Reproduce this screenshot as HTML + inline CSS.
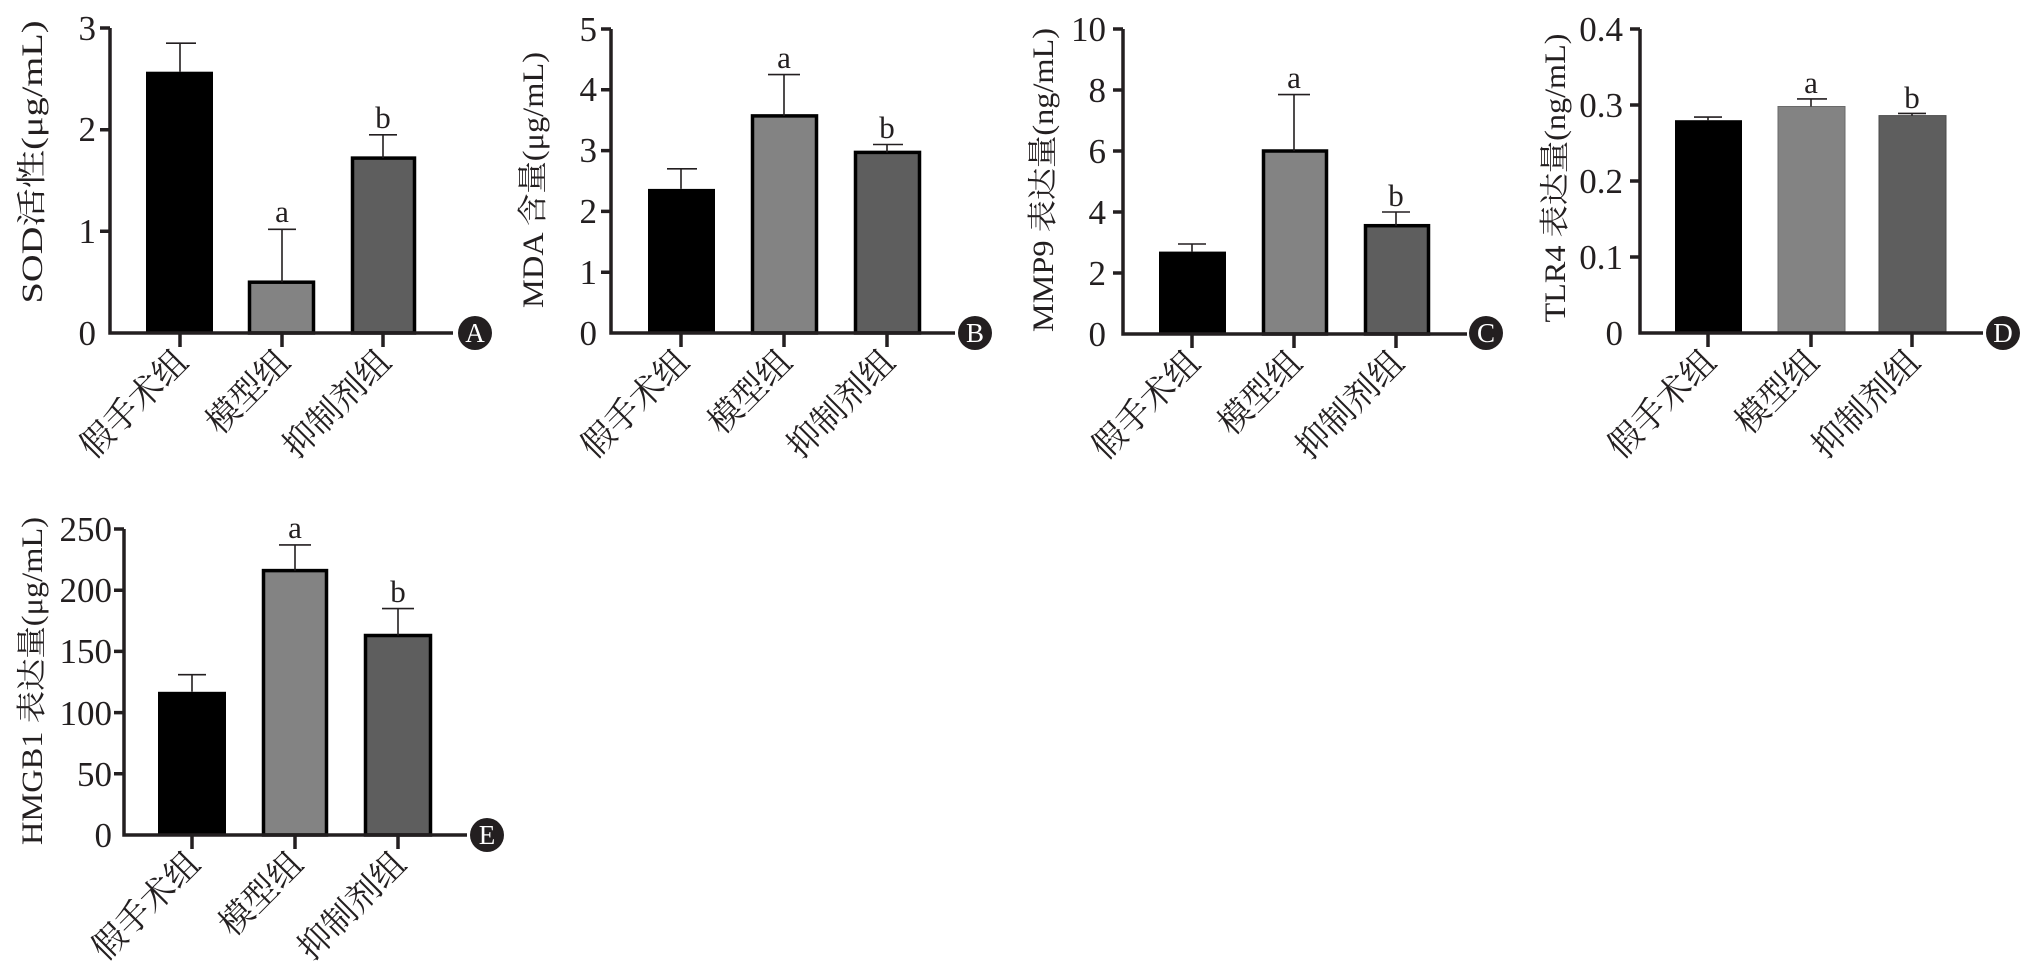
<!DOCTYPE html>
<html><head><meta charset="utf-8"><style>
html,body{margin:0;padding:0;background:#fff;}
svg{display:block;}
text{font-family:"Liberation Serif","Noto Serif CJK SC","Noto Sans CJK SC",serif;fill:#231f20;}
.t{font-size:35px;text-anchor:end;}
.c{font-size:34px;text-anchor:end;}
.y{font-size:30px;text-anchor:middle;}
.s{font-size:31px;text-anchor:middle;}
.L{font-size:27px;text-anchor:middle;fill:#fff;}
.ax{stroke:#231f20;stroke-width:3.5;fill:none;}
.e{stroke:#231f20;stroke-width:1.6;fill:none;}
</style></head><body>
<svg width="2033" height="973" viewBox="0 0 2033 973" xmlns="http://www.w3.org/2000/svg">
<!-- Panel A -->
<g>
<rect x="146" y="71.7" width="67" height="261.3" fill="#000"/>
<rect x="249.5" y="282.2" width="64" height="50.8" fill="#838383" stroke="#000" stroke-width="3.5"/>
<rect x="352.5" y="158.1" width="62" height="174.9" fill="#5e5e5e" stroke="#000" stroke-width="3.5"/>
<path class="e" d="M180 71.7V43.2M166 43.2H196M282 282.2V229.3M268 229.3H296M383 158.1V134.8M369 134.8H397"/>
<text class="s" x="282" y="222">a</text><text class="s" x="383" y="128">b</text>
<path class="ax" d="M110 28V333H453M100 28H110M100 231.3H110M100 129.7H110M180 333V347M282 333V347M383 333V347"/>
<text class="t" x="96" y="345">0</text><text class="t" x="96" y="243">1</text><text class="t" x="96" y="141">2</text><text class="t" x="96" y="40">3</text>
<text class="y" transform="translate(42,162) rotate(-90)" textLength="283" lengthAdjust="spacingAndGlyphs">SOD活性(μg/mL)</text>
<text class="c" transform="translate(190,364) rotate(-45)">假手术组</text>
<text class="c" transform="translate(292,364) rotate(-45)">模型组</text>
<text class="c" transform="translate(393,364) rotate(-45)">抑制剂组</text>
<circle cx="475" cy="333" r="17" fill="#231f20"/><text class="L" x="475" y="342">A</text>
</g>
<!-- Panel B -->
<g>
<rect x="648" y="188.9" width="67" height="144.1" fill="#000"/>
<rect x="752.5" y="115.9" width="64" height="217.1" fill="#838383" stroke="#000" stroke-width="3.5"/>
<rect x="855.5" y="152.4" width="64" height="180.6" fill="#5e5e5e" stroke="#000" stroke-width="3.5"/>
<path class="e" d="M681 188.9V168.8M667 168.8H697M784 115.9V74.6M768 74.6H800M887 152.4V144.5M873 144.5H903"/>
<text class="s" x="784" y="68">a</text><text class="s" x="887" y="138">b</text>
<path class="ax" d="M611 29V333H955M601 29H611M601 89.8H611M601 150.6H611M601 211.4H611M601 272.2H611M681 333V347M784 333V347M887 333V347"/>
<text class="t" x="597" y="345">0</text><text class="t" x="597" y="284">1</text><text class="t" x="597" y="223">2</text><text class="t" x="597" y="162">3</text><text class="t" x="597" y="101">4</text><text class="t" x="597" y="41">5</text>
<text class="y" transform="translate(543,180) rotate(-90)" textLength="256" lengthAdjust="spacingAndGlyphs">MDA 含量(μg/mL)</text>
<text class="c" transform="translate(691,364) rotate(-45)">假手术组</text>
<text class="c" transform="translate(794,364) rotate(-45)">模型组</text>
<text class="c" transform="translate(897,364) rotate(-45)">抑制剂组</text>
<circle cx="975" cy="333" r="17" fill="#231f20"/><text class="L" x="975" y="342">B</text>
</g>
<!-- Panel C -->
<g>
<rect x="1159" y="251.6" width="67" height="82.4" fill="#000"/>
<rect x="1263.5" y="151" width="63" height="183" fill="#838383" stroke="#000" stroke-width="3.5"/>
<rect x="1365.5" y="225.7" width="63" height="108.3" fill="#5e5e5e" stroke="#000" stroke-width="3.5"/>
<path class="e" d="M1192 251.6V244M1178 244H1206M1294 151V94.6M1278 94.6H1310M1396 225.7V212M1382 212H1410"/>
<text class="s" x="1294" y="88">a</text><text class="s" x="1396" y="206">b</text>
<path class="ax" d="M1123 29V334H1467M1113 29H1123M1113 90H1123M1113 151H1123M1113 212H1123M1113 273H1123M1192 334V348M1294 334V348M1396 334V348"/>
<text class="t" x="1106" y="346">0</text><text class="t" x="1106" y="285">2</text><text class="t" x="1106" y="224">4</text><text class="t" x="1106" y="163">6</text><text class="t" x="1106" y="102">8</text><text class="t" x="1106" y="41">10</text>
<text class="y" transform="translate(1053,180) rotate(-90)" textLength="304" lengthAdjust="spacingAndGlyphs">MMP9 表达量(ng/mL)</text>
<text class="c" transform="translate(1202,365) rotate(-45)">假手术组</text>
<text class="c" transform="translate(1304,365) rotate(-45)">模型组</text>
<text class="c" transform="translate(1406,365) rotate(-45)">抑制剂组</text>
<circle cx="1486" cy="333" r="17" fill="#231f20"/><text class="L" x="1486" y="342">C</text>
</g>
<!-- Panel D -->
<g>
<rect x="1675" y="120.2" width="67" height="212.8" fill="#000"/>
<rect x="1778" y="106.5" width="67" height="226.5" fill="#838383" stroke="#6a6a6a" stroke-width="1"/>
<rect x="1879" y="115.6" width="67" height="217.4" fill="#5e5e5e" stroke="#4a4a4a" stroke-width="1"/>
<path class="e" d="M1708 120.2V117.1M1694 117.1H1722M1811 106.5V98.9M1797 98.9H1827M1912 115.6V113.4M1898 113.4H1926"/>
<text class="s" x="1811" y="93">a</text><text class="s" x="1912" y="108">b</text>
<path class="ax" d="M1640 29V333H1983M1630 29H1640M1630 105H1640M1630 181H1640M1630 257H1640M1708 333V347M1811 333V347M1912 333V347"/>
<text class="t" x="1623" y="345">0</text><text class="t" x="1623" y="269">0.1</text><text class="t" x="1623" y="193">0.2</text><text class="t" x="1623" y="117">0.3</text><text class="t" x="1623" y="41">0.4</text>
<text class="y" transform="translate(1565,178) rotate(-90)" textLength="289" lengthAdjust="spacingAndGlyphs">TLR4 表达量(ng/mL)</text>
<text class="c" transform="translate(1718,364) rotate(-45)">假手术组</text>
<text class="c" transform="translate(1821,364) rotate(-45)">模型组</text>
<text class="c" transform="translate(1922,364) rotate(-45)">抑制剂组</text>
<circle cx="2003" cy="333" r="17" fill="#231f20"/><text class="L" x="2003" y="342">D</text>
</g>
<!-- Panel E -->
<g>
<rect x="158" y="691.8" width="68" height="143.2" fill="#000"/>
<rect x="263.5" y="570.6" width="63" height="264.4" fill="#838383" stroke="#000" stroke-width="3.5"/>
<rect x="365.5" y="635.5" width="65" height="199.5" fill="#5e5e5e" stroke="#000" stroke-width="3.5"/>
<path class="e" d="M192 691.8V674.7M178 674.7H206M295 570.6V544.9M279 544.9H311M398 635.5V608.6M382 608.6H414"/>
<text class="s" x="295" y="538">a</text><text class="s" x="398" y="602">b</text>
<path class="ax" d="M124 529V835H467M114 529H124M114 590.2H124M114 651.4H124M114 712.6H124M114 773.8H124M192 835V849M295 835V849M398 835V849"/>
<text class="t" x="112" y="847">0</text><text class="t" x="112" y="786">50</text><text class="t" x="112" y="725">100</text><text class="t" x="112" y="663">150</text><text class="t" x="112" y="602">200</text><text class="t" x="112" y="541">250</text>
<text class="y" transform="translate(42,681) rotate(-90)" textLength="328" lengthAdjust="spacingAndGlyphs">HMGB1 表达量(μg/mL)</text>
<text class="c" transform="translate(202,866) rotate(-45)">假手术组</text>
<text class="c" transform="translate(305,866) rotate(-45)">模型组</text>
<text class="c" transform="translate(408,866) rotate(-45)">抑制剂组</text>
<circle cx="487" cy="835" r="17" fill="#231f20"/><text class="L" x="487" y="844">E</text>
</g>
</svg>
</body></html>
